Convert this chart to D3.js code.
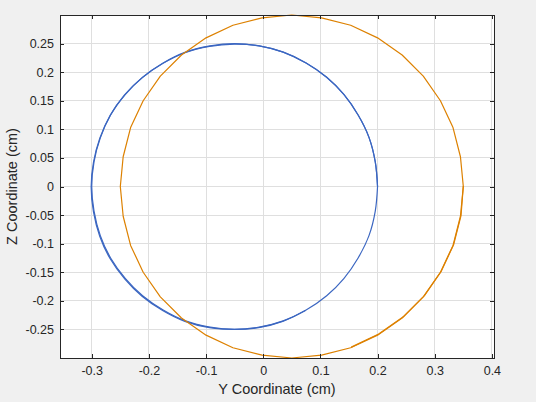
<!DOCTYPE html>
<html>
<head>
<meta charset="utf-8">
<script src="https://cdn.jsdelivr.net/npm/d3@7"></script>
<style>
  html, body { margin: 0; padding: 0; background: #f0f0f0; }
  svg { display: block; }
  .tick text { font-family: "Liberation Sans", Arial, sans-serif; font-size: 12.5px; fill: #262626; }
  .tick line { stroke: #262626; }
</style>
</head>
<body>
<script>
// ---- data (cm) ----
var blueY = [0.200, 0.196, 0.185, 0.166, 0.141, 0.111, 0.075, 0.035, -0.007, -0.050, -0.093, -0.136, -0.175, -0.211, -0.241, -0.267, -0.285, -0.296, -0.300,
  -0.296, -0.285, -0.267, -0.241, -0.211, -0.175, -0.136, -0.093, -0.050, -0.007, 0.035, 0.075, 0.111, 0.141, 0.166, 0.185, 0.196, 0.200];
var blueZ = [0.000, 0.043, 0.086, 0.125, 0.161, 0.191, 0.216, 0.235, 0.246, 0.250, 0.246, 0.235, 0.216, 0.191, 0.161, 0.125, 0.085, 0.043, 0.000,
  -0.043, -0.086, -0.125, -0.161, -0.191, -0.216, -0.235, -0.246, -0.250, -0.246, -0.235, -0.216, -0.191, -0.161, -0.125, -0.086, -0.043, 0.000];
// second pass of the blue trace
var blueY2 = [0.200, 0.196, 0.185, 0.166, 0.141, 0.111, 0.075, 0.035, -0.007, -0.051, -0.094, -0.137, -0.176, -0.212, -0.243, -0.268, -0.286, -0.297, -0.301,
  -0.297, -0.286, -0.268, -0.242, -0.212, -0.176, -0.137, -0.094, -0.051, -0.008, 0.034, 0.074];
var blueZ2 = [0.000, 0.043, 0.086, 0.125, 0.161, 0.191, 0.216, 0.235, 0.246, 0.249, 0.245, 0.234, 0.215, 0.190, 0.160, 0.124, 0.084, 0.042, -0.001,
  -0.044, -0.087, -0.126, -0.162, -0.192, -0.217, -0.236, -0.247, -0.250, -0.247, -0.236, -0.217];

var orangeY = [0.350, 0.345, 0.332, 0.310, 0.280, 0.243, 0.200, 0.153, 0.102, 0.050, -0.002, -0.053, -0.100, -0.143, -0.180, -0.210, -0.232, -0.245, -0.250,
  -0.245, -0.232, -0.210, -0.180, -0.143, -0.100, -0.053, -0.002, 0.050, 0.102, 0.153, 0.200, 0.243, 0.280, 0.310, 0.332, 0.345, 0.350];
var orangeZ = [0.000, 0.052, 0.103, 0.150, 0.193, 0.230, 0.260, 0.282, 0.295, 0.300, 0.295, 0.282, 0.260, 0.230, 0.193, 0.150, 0.103, 0.052, 0.000,
  -0.052, -0.103, -0.150, -0.193, -0.230, -0.260, -0.282, -0.295, -0.300, -0.295, -0.282, -0.260, -0.230, -0.193, -0.150, -0.103, -0.052, 0.000];
// second pass of the orange trace
var orangeY2 = [0.154, 0.202, 0.245, 0.282, 0.311, 0.333, 0.346, 0.350];
var orangeZ2 = [-0.281, -0.258, -0.228, -0.191, -0.149, -0.102, -0.051, 0.001];

var xTicks = [-0.3, -0.2, -0.1, 0, 0.1, 0.2, 0.3, 0.4];
var xTickLabels = ["-0.3", "-0.2", "-0.1", "0", "0.1", "0.2", "0.3", "0.4"];
var yTicks = [-0.25, -0.2, -0.15, -0.1, -0.05, 0, 0.05, 0.1, 0.15, 0.2, 0.25];
var yTickLabels = ["-0.25", "-0.2", "-0.15", "-0.1", "-0.05", "0", "0.05", "0.1", "0.15", "0.2", "0.25"];

var xLabel = "Y Coordinate (cm)";
var yLabel = "Z Coordinate (cm)";

// ---- layout ----
var W = 536, H = 402;
var m = {left: 60, top: 15, right: 42, bottom: 44};
var w = W - m.left - m.right, h = H - m.top - m.bottom;

var x = d3.scaleLinear().domain([-0.3555, 0.4037]).range([0, w]);
var y = d3.scaleLinear().domain([-0.3, 0.3]).range([h, 0]);

var svg = d3.select("body").append("svg")
  .attr("width", W).attr("height", H);

svg.append("rect").attr("width", W).attr("height", H).style("fill", "#f0f0f0");

var g = svg.append("g").attr("transform", "translate(" + m.left + "," + m.top + ")");

g.append("rect").attr("width", w).attr("height", h).style("fill", "#ffffff");

// grid
g.selectAll(".gx").data(xTicks).enter().append("line")
  .attr("x1", function(d){ return x(d); }).attr("x2", function(d){ return x(d); })
  .attr("y1", 0).attr("y2", h)
  .style("stroke", "#dfdfdf").style("stroke-width", 1).attr("shape-rendering", "crispEdges");
g.selectAll(".gy").data(yTicks).enter().append("line")
  .attr("y1", function(d){ return y(d); }).attr("y2", function(d){ return y(d); })
  .attr("x1", 0).attr("x2", w)
  .style("stroke", "#dfdfdf").style("stroke-width", 1).attr("shape-rendering", "crispEdges");

// traces
function drawTrace(ys, zs, color, curve){
  var line = d3.line()
    .x(function(d){ return x(d[0]); })
    .y(function(d){ return y(d[1]); })
    .curve(curve);
  g.append("path")
    .datum(d3.zip(ys, zs))
    .attr("d", line)
    .style("fill", "none")
    .style("stroke", color)
    .style("stroke-width", 1.2)
    .style("stroke-linejoin", "round");
}
drawTrace(blueY, blueZ, "#3b66c1", d3.curveCatmullRom);
drawTrace(blueY2, blueZ2, "#3b66c1", d3.curveCatmullRom);
drawTrace(orangeY, orangeZ, "#dd8100", d3.curveLinear);
drawTrace(orangeY2, orangeZ2, "#dd8100", d3.curveLinear);

// axes
var xAxis = g.append("g").attr("transform", "translate(0," + h + ")")
  .call(d3.axisBottom(x).tickValues(xTicks)
    .tickFormat(function(d, i){ return xTickLabels[i]; })
    .tickSizeInner(-4).tickSizeOuter(0).tickPadding(8));
var yAxis = g.append("g")
  .call(d3.axisLeft(y).tickValues(yTicks)
    .tickFormat(function(d, i){ return yTickLabels[i]; })
    .tickSizeInner(-4).tickSizeOuter(0).tickPadding(6));
var xTop = g.append("g")
  .call(d3.axisTop(x).tickValues(xTicks).tickFormat("").tickSizeInner(-4).tickSizeOuter(0));
var yRight = g.append("g").attr("transform", "translate(" + w + ",0)")
  .call(d3.axisRight(y).tickValues(yTicks).tickFormat("").tickSizeInner(-4).tickSizeOuter(0));

[xAxis, yAxis, xTop, yRight].forEach(function(a){
  a.select(".domain").remove();
  a.selectAll(".tick line").attr("shape-rendering", "crispEdges");
});

// box
g.append("rect").attr("width", w).attr("height", h)
  .style("fill", "none").style("stroke", "#262626").style("stroke-width", 1)
  .attr("shape-rendering", "crispEdges");

// labels
svg.append("text")
  .attr("x", m.left + w / 2).attr("y", 393.5)
  .attr("text-anchor", "middle")
  .style("font-family", "Liberation Sans, Arial, sans-serif")
  .style("font-size", "14.5px").style("fill", "#262626")
  .text(xLabel);
svg.append("text")
  .attr("transform", "translate(16.5," + (m.top + h / 2) + ") rotate(-90)")
  .attr("text-anchor", "middle")
  .style("font-family", "Liberation Sans, Arial, sans-serif")
  .style("font-size", "14.5px").style("fill", "#262626")
  .text(yLabel);
</script>
</body>
</html>
